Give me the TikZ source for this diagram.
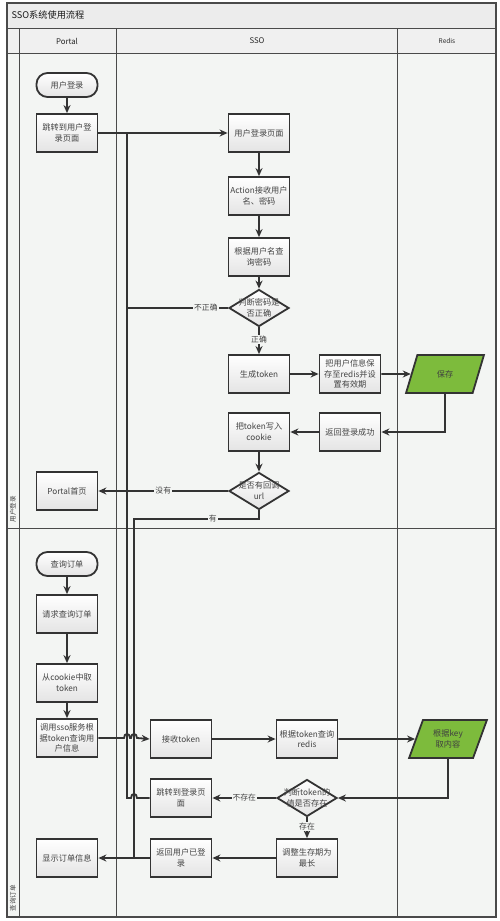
\documentclass[tikz,border=0pt]{standalone}
\usepackage{fontspec}
\newfontfamily\cjk{Noto Sans CJK SC}
\usetikzlibrary{shapes.geometric,arrows.meta}
\definecolor{linec}{HTML}{333333}
\definecolor{framec}{HTML}{4A4A4A}
\definecolor{lanebg}{HTML}{F3F5F3}
\definecolor{titlebg}{HTML}{ECECEC}
\definecolor{headbg}{HTML}{F0F0F0}
\definecolor{boxb}{HTML}{E4E4E4}
\definecolor{txtc}{HTML}{444444}
\definecolor{greenc}{HTML}{7DBB3C}
\begin{document}
\begin{tikzpicture}[x=1pt,y=-1pt,
  boxtxt/.style={font=\cjk\fontsize{8.2}{10.8}\selectfont, text=txtc},
  stepbox/.style={boxtxt, draw=linec, line width=1.8pt, top color=white, bottom color=boxb,
    minimum width=61pt, minimum height=38pt, inner sep=0pt, align=center},
  termbox/.style={stepbox, rounded corners=11pt, minimum height=24pt},
  diabox/.style={diamond, draw=linec, line width=1.8pt, top color=white, bottom color=boxb,
    minimum width=60pt, minimum height=37pt, inner sep=0pt},
  diatxt/.style={boxtxt, align=center, inner sep=0pt},
  parabox/.style={boxtxt, trapezium, trapezium left angle=66, trapezium right angle=114,
    trapezium stretches=true, draw=linec, line width=1.8pt, fill=greenc,
    minimum width=78pt, minimum height=38pt, inner sep=0pt, align=center, text=black!75},
  conn/.style={draw=linec, line width=1.8pt, -{Stealth[length=8pt,width=7pt]}},
  plain/.style={draw=linec, line width=1.8pt},
  lbl/.style={fill=lanebg, inner sep=1pt, font=\cjk\fontsize{7.8}{9}\selectfont, text=txtc},
  grid/.style={draw=framec, line width=0.8pt},
  headtxt/.style={font=\cjk\fontsize{7.8}{9}\selectfont, text=black!85},
  lanetxt/.style={font=\cjk\fontsize{6.5}{7}\selectfont, text=txtc, rotate=90, anchor=west}
]
\useasboundingbox (0,0) rectangle (500,921);
\fill[white] (0,0) rectangle (500,921);
% frame and lanes
\fill[lanebg] (7,53) rectangle (496,917);
\fill[titlebg] (7,3) rectangle (496,28);
\fill[headbg] (7,28) rectangle (496,53);
\draw[grid] (7,28) -- (496,28);
\draw[grid] (7,53) -- (496,53);
\draw[grid] (7,528) -- (496,528);
\draw[grid] (19,28) -- (19,917);
\draw[grid] (116,28) -- (116,917);
\draw[grid] (397,28) -- (397,917);
\draw[draw=framec, line width=1.3pt] (7,3) rectangle (496,917);
\node[font=\cjk\fontsize{9.2}{10}\selectfont, text=black!90, anchor=west] (title) at (8,15.5) {SSO系统使用流程};
\node[headtxt] (hportal) at (67,41) {Portal};
\node[headtxt] (hsso) at (257,41) {SSO};
\node[headtxt, font=\cjk\fontsize{6.5}{7}\selectfont] (hredis) at (447,41) {Redis};
\node[lanetxt] (lane1) at (13,526) {用户登录};
\node[lanetxt] (lane2) at (13,915) {查询订单};

% ---- lane 1 nodes
\node[termbox] (start1) at (67,85) {用户登录};
\node[stepbox] (jump) at (67,133) {跳转到用户登\\录页面};
\node[stepbox] (loginpage) at (259,133) {用户登录页面};
\node[stepbox] (action) at (259,196) {Action接收用户\\名、密码};
\node[stepbox] (query) at (259,257) {根据用户名查\\询密码};
\node[diabox] (d1) at (259,308) {};
\node[diatxt] (d1t) at (d1) {判断密码是\\否正确};
\node[stepbox] (gen) at (259,374) {生成token};
\node[stepbox] (saveinfo) at (350,374) {把用户信息保\\存至redis并设\\置有效期};
\node[parabox] (save) at (445,374) {保存};
\node[stepbox] (retok) at (350,432) {返回登录成功};
\node[stepbox] (cookie) at (259,432) {把token写入\\cookie};
\node[diabox] (d2) at (259,491) {};
\node[diatxt] (d2t) at (d2) {是否有回调\\url};
\node[stepbox] (home) at (67,491) {Portal首页};

% ---- lane 2 nodes
\node[termbox] (start2) at (67,564) {查询订单};
\node[stepbox] (req) at (67,614) {请求查询订单};
\node[stepbox] (fromck) at (67,683) {从cookie中取\\token};
\node[stepbox] (callsso) at (67,738) {调用sso服务根\\据token查询用\\户信息};
\node[stepbox] (recv) at (181,739) {接收token};
\node[stepbox] (qredis) at (307,739) {根据token查询\\redis};
\node[parabox] (getkey) at (448,739) {根据key\\取内容};
\node[diabox] (d3) at (307,798) {};
\node[diatxt] (d3t) at (d3) {判断token的\\值是否存在};
\node[stepbox] (tologin) at (181,798) {跳转到登录页\\面};
\node[stepbox] (adjust) at (307,858) {调整生存期为\\最长};
\node[stepbox] (retlog) at (181,858) {返回用户已登\\录};
\node[stepbox] (show) at (67,858) {显示订单信息};

% helper coordinates
\coordinate (a1) at (127,133);
\coordinate (a2) at (127,308);
\coordinate (a3) at (127,798);
\coordinate (h1) at (259,519);
\coordinate (h2) at (134,519);
\coordinate (h3) at (134,858);
\coordinate (s1) at (445,432);
\coordinate (k1) at (448,798);

% ---- lane 1 connectors
\draw[conn] (start1) -- (jump);
\draw[conn] (jump) -- (loginpage);
\draw[conn] (loginpage) -- (action);
\draw[conn] (action) -- (query);
\draw[conn] (query) -- (d1);
\draw[plain] (d1.west) -- node[lbl, pos=0.22] (l1) {不正确} (a2) -- (a1);
\draw[conn] (d1.south) -- node[lbl, pos=0.45] (l2) {正确} (gen.north);
\draw[conn] (gen) -- (saveinfo);
\draw[conn] (saveinfo) -- (save);
\draw[conn] (save.south) -- (s1) -- (retok.east);
\draw[conn] (retok) -- (cookie);
\draw[conn] (cookie) -- (d2);
\draw[conn] (d2.west) -- node[lbl, pos=0.5] (l3) {没有} (home.east);
\draw[plain] (d2.south) -- (h1) -- node[lbl, pos=0.37] (l4) {有} (h2) -- (h3);

% ---- lane 2 connectors
\draw[conn] (start2) -- (req);
\draw[conn] (req) -- (fromck);
\draw[conn] (fromck) -- (callsso);
\draw[conn] (callsso.east) -- (124,738) .. controls (124,732.5) and (130,732.5) .. (130,738)
   -- (131,738) .. controls (131,732.5) and (137,732.5) .. (137,738) -- (recv.west);
\draw[conn] (recv) -- (qredis);
\draw[conn] (qredis) -- (getkey);
\draw[conn] (getkey.south) -- (k1) -- (d3.east);
\draw[conn] (d3.west) -- node[lbl, pos=0.5] (l5) {不存在} (tologin.east);
\draw[conn] (d3.south) -- node[lbl, pos=0.45] (l6) {存在} (adjust.north);
\draw[conn] (adjust) -- (retlog);
\draw[conn] (retlog) -- (show);
\draw[plain] (tologin.west) -- (137,798) .. controls (137,792.5) and (131,792.5) .. (131,798) -- (a3) -- (a2);
\end{tikzpicture}
\end{document}
